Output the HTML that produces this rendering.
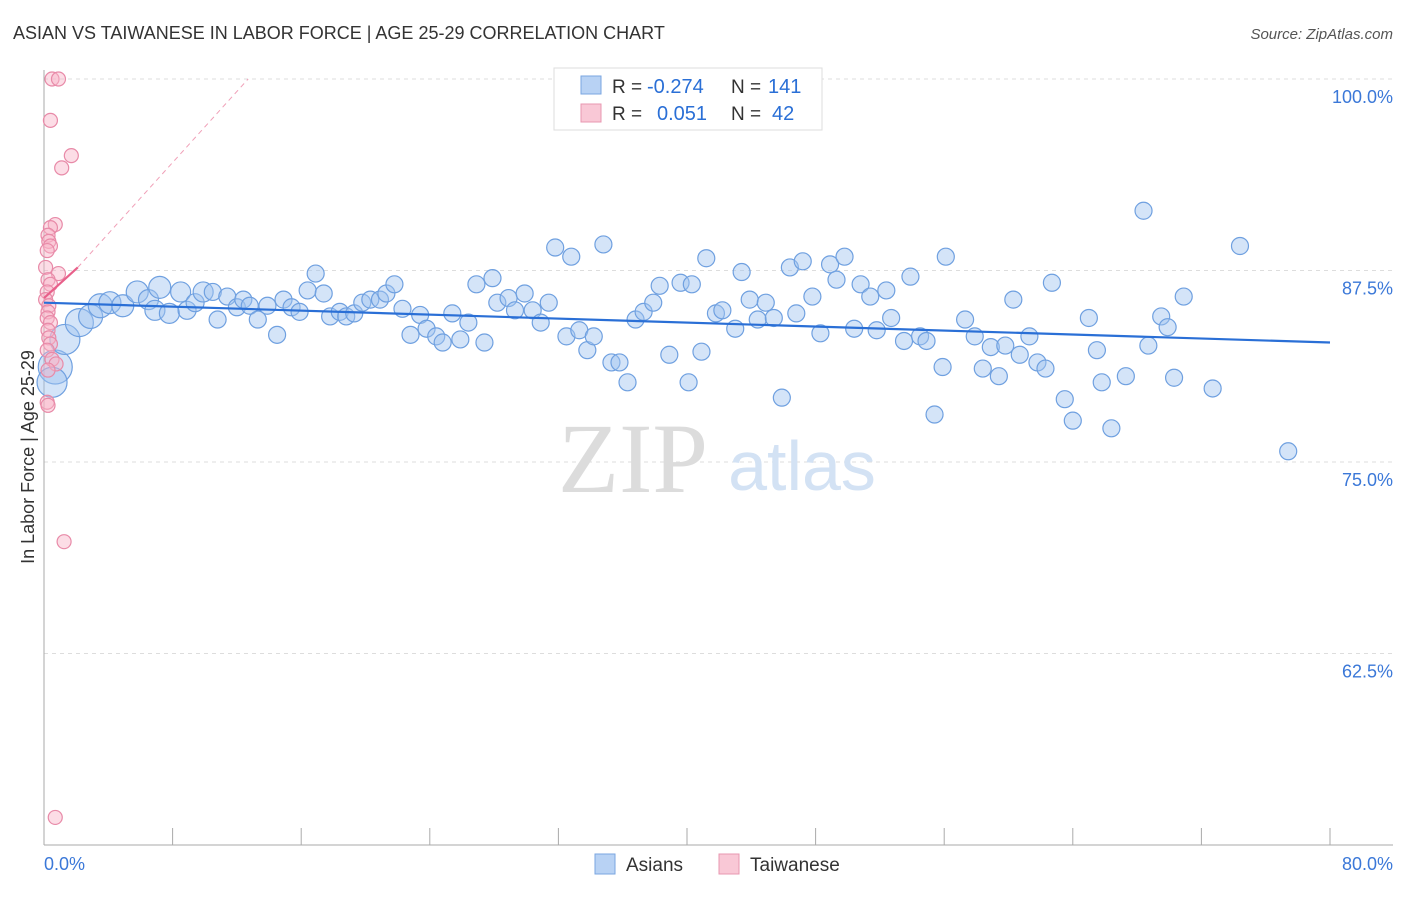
<!DOCTYPE html>
<html><head><meta charset="utf-8">
<style>
body{margin:0;background:#fff;font-family:"Liberation Sans",sans-serif;}
</style></head>
<body>
<svg id="chart" width="1406" height="892" viewBox="0 0 1406 892" xmlns="http://www.w3.org/2000/svg" font-family="Liberation Sans, sans-serif">
<text x="13" y="39" font-size="18" fill="#333">ASIAN VS TAIWANESE IN LABOR FORCE | AGE 25-29 CORRELATION CHART</text>
<text x="1393" y="39" font-size="15" fill="#555" font-style="italic" text-anchor="end">Source: ZipAtlas.com</text>
<g id="grid"></g>
<g>
<text x="633" y="492" font-size="100" style="font-family:'Liberation Serif',serif" fill="#dcdcdc" text-anchor="middle">ZIP</text>
<text x="802" y="490" font-size="70" fill="#d3e2f4" text-anchor="middle">atlas</text>
</g>
<g id="axes"></g>
<g id="pts"></g>
<g id="trend"></g>
<text transform="translate(34,457) rotate(-90)" font-size="18" fill="#333" text-anchor="middle">In Labor Force | Age 25-29</text>
<text x="44" y="870" font-size="18" fill="#3b78d8">0.0%</text>
<text x="1393" y="870" font-size="18" fill="#3b78d8" text-anchor="end">80.0%</text>
<g>
<rect x="554" y="68" width="268" height="62" fill="#fff" stroke="#ddd"/>
<rect x="581" y="76" width="20" height="18" fill="#b8d2f4" stroke="#7aa6e0"/>
<rect x="581" y="104" width="20" height="18" fill="#f9c8d6" stroke="#e897b0"/>
<text x="612" y="93" font-size="19" fill="#333">R =</text>
<text x="647" y="93" font-size="20" fill="#2a6fd6">-0.274</text>
<text x="731" y="93" font-size="19" fill="#333">N =</text>
<text x="768" y="93" font-size="20" fill="#2a6fd6">141</text>
<text x="612" y="120" font-size="19" fill="#333">R =</text>
<text x="657" y="120" font-size="20" fill="#2a6fd6">0.051</text>
<text x="731" y="120" font-size="19" fill="#333">N =</text>
<text x="772" y="120" font-size="20" fill="#2a6fd6">42</text>
</g>
<g>
<rect x="595" y="854" width="20" height="20" fill="#b8d2f4" stroke="#7aa6e0"/>
<text x="626" y="871" font-size="19" fill="#333">Asians</text>
<rect x="719" y="854" width="20" height="20" fill="#f9c8d6" stroke="#e897b0"/>
<text x="750" y="871" font-size="19" fill="#333">Taiwanese</text>
</g>
</svg>
<script>
const yTicks=[100,87.5,75,62.5];
const yTickLabels=["100.0%","87.5%","75.0%","62.5%"];
const xTicks=[0,8,16,24,32,40,48,56,64,72,80];
const asianX=[0.7,0.5,1.3,2.2,2.9,3.5,4.1,4.9,5.8,6.5,6.9,7.2,7.8,8.5,8.9,9.4,9.9,10.5,10.8,11.4,12.0,12.4,12.8,13.3,13.9,14.5,14.9,15.4,15.9,16.4,16.9,17.4,17.8,18.4,18.8,19.3,19.8,20.3,20.9,21.3,21.8,22.3,22.8,23.4,23.8,24.4,24.8,25.4,25.9,26.4,26.9,27.4,27.9,28.2,28.9,29.3,29.9,30.4,30.9,31.4,31.8,32.5,32.8,33.3,33.8,34.2,34.8,35.3,35.8,36.3,36.8,37.3,37.9,38.3,38.9,39.6,40.1,40.3,40.9,41.2,41.8,42.2,43.0,43.4,43.9,44.4,44.9,45.4,45.9,46.4,46.8,47.2,47.8,48.3,48.9,49.3,49.8,50.4,50.8,51.4,51.8,52.4,52.7,53.5,53.9,54.5,54.9,55.4,55.9,56.1,57.3,57.9,58.4,58.9,59.4,59.8,60.3,60.7,61.3,61.8,62.3,62.7,63.5,64.0,65.0,65.5,65.8,66.4,67.3,68.4,68.7,69.5,69.9,70.3,70.9,72.7,74.4,77.4];
const asianY=[81.2,80.2,83.0,84.1,84.5,85.2,85.4,85.2,86.1,85.6,84.9,86.4,84.7,86.1,84.9,85.4,86.1,86.1,84.3,85.8,85.1,85.6,85.2,84.3,85.2,83.3,85.6,85.1,84.8,86.2,87.3,86.0,84.5,84.8,84.5,84.7,85.4,85.6,85.6,86.0,86.6,85.0,83.3,84.6,83.7,83.2,82.8,84.7,83.0,84.1,86.6,82.8,87.0,85.4,85.7,84.9,86.0,84.9,84.1,85.4,89.0,83.2,88.4,83.6,82.3,83.2,89.2,81.5,81.5,80.2,84.3,84.8,85.4,86.5,82.0,86.7,80.2,86.6,82.2,88.3,84.7,84.9,83.7,87.4,85.6,84.3,85.4,84.4,79.2,87.7,84.7,88.1,85.8,83.4,87.9,86.9,88.4,83.7,86.6,85.8,83.6,86.2,84.4,82.9,87.1,83.2,82.9,78.1,81.2,88.4,84.3,83.2,81.1,82.5,80.6,82.6,85.6,82.0,83.2,81.5,81.1,86.7,79.1,77.7,84.4,82.3,80.2,77.2,80.6,91.4,82.6,84.5,83.8,80.5,85.8,79.8,89.1,75.7];
const asianSize=[17,15,15,14,12,12,11,11,11,10,10,11,10,10,9,9,10];
const taiX=[0.5,0.9,0.4,1.7,1.1,0.7,0.4,0.25,0.3,0.4,0.2,0.1,0.9,0.25,0.4,0.2,0.1,0.3,0.25,0.2,0.4,0.25,0.3,0.4,0.2,0.5,0.75,0.25,0.2,0.25,1.25,0.7];
const taiY=[100,100,97.3,95.0,94.2,90.5,90.3,89.8,89.4,89.1,88.8,87.7,87.3,86.9,86.6,86.1,85.6,85.2,84.8,84.4,84.1,83.6,83.1,82.7,82.3,81.7,81.4,81.0,78.9,78.7,69.8,51.8];
const asianTrend=[[0,85.4],[80,82.8]];
const taiTrend=[[0,85.7],[2.1,87.7]];
const taiTrendExt=[[2.1,87.7],[12.7,100]];
const NS="http://www.w3.org/2000/svg";
function xs(v){return 44+v*1286/80;}
function ys(v){return 79+(100-v)*15.32;}
function mk(tag,attrs,parent){const e=document.createElementNS(NS,tag);for(const k in attrs)e.setAttribute(k,attrs[k]);parent.appendChild(e);return e;}
const grid=document.getElementById('grid'),axes=document.getElementById('axes'),pts=document.getElementById('pts'),trend=document.getElementById('trend');
yTicks.forEach((t,i)=>{
 const l=mk('line',{x1:44,x2:1393,y1:ys(t),y2:ys(t),stroke:'#ddd','stroke-dasharray':'4,4'},grid);
 
 
 const tx=mk('text',{x:1393,y:ys(t)+24,'font-size':18,fill:'#3b78d8','text-anchor':'end'},grid);
 tx.textContent=yTickLabels[i];
 
 
});
const ya=mk('line',{x1:44,x2:44,y1:70,y2:845,stroke:'#aaa'},axes);


const xa=mk('line',{x1:44,x2:1393,y1:845,y2:845,stroke:'#aaa'},axes);


xTicks.forEach(t=>{
 const l=mk('line',{x1:xs(t),x2:xs(t),y1:828,y2:845,stroke:'#aaa'},axes);
 
 
});
asianX.forEach((x,i)=>{
 const c=mk('circle',{cx:xs(x),cy:ys(asianY[i]),r:asianSize[i]||8.5,fill:'rgba(160,196,240,0.45)',stroke:'#6fa0e0','stroke-width':1.2},pts);
 
 
});
taiX.forEach((x,i)=>{
 const c=mk('circle',{cx:xs(x),cy:ys(taiY[i]),r:7,fill:'rgba(248,180,200,0.45)',stroke:'#e88aa8','stroke-width':1.2},pts);
 
 
});
const bl=mk('line',{x1:xs(asianTrend[0][0]),y1:ys(asianTrend[0][1]),x2:xs(asianTrend[1][0]),y2:ys(asianTrend[1][1]),stroke:'#2a6fd6','stroke-width':2.2},trend);


const pl=mk('line',{x1:xs(taiTrend[0][0]),y1:ys(taiTrend[0][1]),x2:xs(taiTrend[1][0]),y2:ys(taiTrend[1][1]),stroke:'#e8608a','stroke-width':2.2},trend);


const pe=mk('line',{x1:xs(taiTrendExt[0][0]),y1:ys(taiTrendExt[0][1]),x2:xs(taiTrendExt[1][0]),y2:ys(taiTrendExt[1][1]),stroke:'#f0a0b8','stroke-width':1,'stroke-dasharray':'5,4'},trend);


</script>
</body></html>
